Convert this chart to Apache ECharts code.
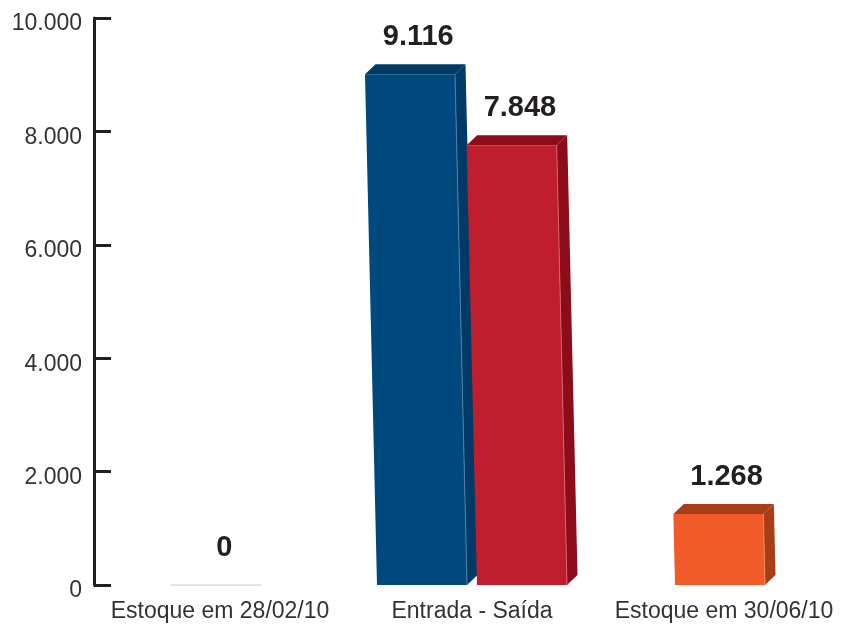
<!DOCTYPE html>
<html>
<head>
<meta charset="utf-8">
<script src="https://cdn.jsdelivr.net/npm/echarts@6/dist/echarts.min.js"></script>
<style>
  html, body { margin: 0; padding: 0; background: #fff; }
  #chart { width: 841px; height: 625px; }
</style>
</head>
<body>
<div id="chart"></div>
<script>
// dados do gráfico
const categories = ['Estoque em 28/02/10', 'Entrada - Saída', 'Estoque em 30/06/10']
const estoque = [0, null, 1268]
const entrada = [null, 9116, null]
const saida = [null, 7848, null]

const FONT = '"Liberation Sans", Arial, Helvetica, sans-serif'

// 9116 -> "9.116"
function fmt(v) {
  return String(v).replace(/\B(?=(\d{3})+(?!\d))/g, '.')
}

function toData(arr) {
  const out = []
  arr.forEach((v, i) => { if (v !== null) out.push([i, v]) })
  return out
}

// barra "3D": face frontal + lateral + topo
function bar3d(offset, colors) {
  return function (params, api) {
    const idx = api.value(0)
    const val = api.value(1)
    const p0 = api.coord([idx, 0])
    const p1 = api.coord([idx, val])
    const base = p0[1]
    const top = p1[1]
    const W = 90, dx = 10.5, dy = 10
    const s = (base - top) * 0.0235
    const bl = p0[0] + offset
    const label = {
      type: 'text',
      style: {
        text: fmt(val), x: bl - s + (W + dx) / 2 + 3, y: top - 37,
        textAlign: 'center', textVerticalAlign: 'middle',
        font: 'bold 29px ' + FONT, fill: '#231f20'
      }
    }
    if (val === 0) {
      return {
        type: 'group',
        children: [
          { type: 'line', shape: { x1: bl, y1: base, x2: bl + W, y2: base },
            style: { stroke: '#c8c8c8', lineWidth: 1 } },
          label
        ]
      }
    }
    const c = colors
    return {
      type: 'group',
      children: [
        { type: 'polygon',
          shape: { points: [[bl + W, base], [bl + W - s, top], [bl + W - s + dx, top - dy], [bl + W + dx, base - dy]] },
          style: { fill: c.side } },
        { type: 'polygon',
          shape: { points: [[bl - s, top], [bl + W - s, top], [bl + W - s + dx, top - dy], [bl - s + dx, top - dy]] },
          style: { fill: c.side } },
        { type: 'polygon',
          shape: { points: [[bl, base], [bl + W, base], [bl + W - s, top], [bl - s, top]] },
          style: { fill: c.front } },
        { type: 'line', shape: { x1: bl + W, y1: base, x2: bl + W - s, y2: top },
          style: { stroke: c.edge, lineWidth: 1 } },
        label
      ]
    }
  }
}

const chart = echarts.init(document.getElementById('chart'))

const option = {
  animation: false,
  grid: { left: 94, width: 756, top: 18, bottom: 40, outerBoundsMode: 'none', containLabel: false },
  xAxis: {
    type: 'category',
    data: categories,
    axisLine: { show: false },
    axisTick: { show: false },
    axisLabel: { color: '#333', fontSize: 23, fontFamily: FONT, margin: 15, interval: 0, hideOverlap: false }
  },
  yAxis: [
    {
      type: 'value',
      min: 0,
      max: 10000,
      interval: 2000,
      splitLine: { show: false },
      axisLine: { show: true, lineStyle: { color: '#231f20', width: 3 } },
      axisTick: { show: true, inside: true, length: 17, lineStyle: { color: '#231f20', width: 3 } },
      axisLabel: {
        margin: 12,
        formatter: v => '{t|' + fmt(v) + '}',
        rich: {
          t: { color: '#333', fontSize: 23, fontFamily: FONT, padding: [12, 0, 0, 0] }
        }
      }
    },
    {
      // escala das barras (o original desenha as barras um pouco mais baixas)
      type: 'value',
      min: 0,
      max: 10120,
      show: false,
      splitLine: { show: false }
    }
  ],
  series: [
    {
      name: 'Estoque',
      type: 'custom',
      clip: false,
      yAxisIndex: 1,
      renderItem: bar3d(-49, { front: '#f15a29', side: '#a83e17', edge: '#f58a66' }),
      data: toData(estoque)
    },
    {
      name: 'Entrada',
      type: 'custom',
      clip: false,
      yAxisIndex: 1,
      renderItem: bar3d(-95, { front: '#00497e', side: '#003b68', edge: '#4f7ea6' }),
      data: toData(entrada)
    },
    {
      name: 'Saída',
      type: 'custom',
      clip: false,
      yAxisIndex: 1,
      renderItem: bar3d(5, { front: '#be1e2d', side: '#8c0c1a', edge: '#d9606a' }),
      data: toData(saida)
    }
  ]
}

chart.setOption(option)
</script>
</body>
</html>
